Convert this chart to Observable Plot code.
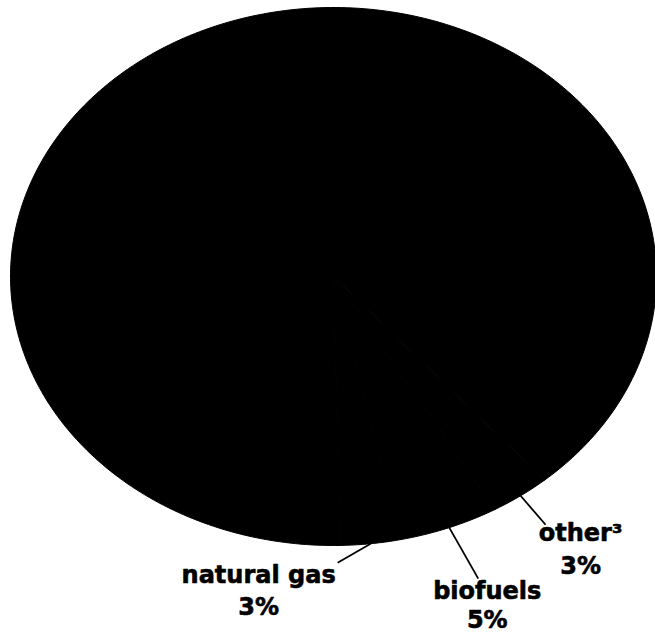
<!DOCTYPE html>
<html>
<head>
<meta charset="utf-8">
<script src="https://cdn.jsdelivr.net/npm/d3@7"></script>
<script src="https://cdn.jsdelivr.net/npm/@observablehq/plot@0.6"></script>
<style>
  html, body { margin: 0; padding: 0; background: #fff; }
  #chart { width: 655px; height: 635px; }
</style>
</head>
<body>
<div id="chart"></div>
<script>
// ---- data ----
const categories = ["other³", "biofuels", "natural gas", "petroleum"];
const shares = [3, 5, 3, 89];            // percent
const shareLabels = ["3%", "5%", "3%", ""];

// ---- layout (not data) ----
const startAngle = 139.2;                // degrees clockwise from 12 o'clock
const xRange = [10, 656], yRange = [545, 7];
const rxPx = (xRange[1] - xRange[0]) / 2, ryPx = (yRange[0] - yRange[1]) / 2;
// pixel offsets from each slice's edge midpoint: name baseline, value baseline, leader end
const labelOffsets = {
  "other³":      {name: [60, 45],  value: [60, 78],  lead: [25, 29]},
  "biofuels":    {name: [38, 71],  value: [38, 100], lead: [29, 51]},
  "natural gas": {name: [-112, 39], value: [-112, 71], lead: [-33, 19]}
};

const rad = d => d * Math.PI / 180;
const px2dx = p => p / rxPx, px2dy = p => -p / ryPx;

// build slice polygons from the shares
const slicePts = [];
const labels = [];
let a = startAngle;
categories.forEach((c, i) => {
  const a0 = a, a1 = a + shares[i] / 100 * 360;
  a = a1;
  slicePts.push({cat: c, x: 0, y: 0});
  const steps = Math.max(2, Math.ceil(a1 - a0));
  for (let k = 0; k <= steps; k++) {
    const t = rad(a0 + (a1 - a0) * k / steps);
    slicePts.push({cat: c, x: Math.sin(t), y: Math.cos(t)});
  }
  slicePts.push({cat: c, x: 0, y: 0});
  const off = labelOffsets[c];
  if (off) {
    const m = rad((a0 + a1) / 2);
    const ex = Math.sin(m), ey = Math.cos(m);
    labels.push({
      cat: c, value: shareLabels[i],
      ex, ey,
      lx: ex + px2dx(off.lead[0]), ly: ey + px2dy(off.lead[1]),
      nx: ex + px2dx(off.name[0]), ny: ey + px2dy(off.name[1]),
      vx: ex + px2dx(off.value[0]), vy: ey + px2dy(off.value[1])
    });
  }
});

const font = {fontSize: 24, fontWeight: "bold", fontFamily: "DejaVu Sans", fill: "#000", stroke: "#000", strokeWidth: 0.6, textAnchor: "middle", lineAnchor: "bottom"};

const chart = Plot.plot({
  width: 655,
  height: 635,
  x: {domain: [-1, 1], range: xRange, axis: null},
  y: {domain: [-1, 1], range: yRange, axis: null},
  style: {background: "#fff", overflow: "visible"},
  marks: [
    Plot.line(slicePts, {x: "x", y: "y", z: "cat", fill: "#000", stroke: "#000", strokeWidth: 1, strokeLinejoin: "round", curve: "linear"}),
    Plot.link(labels, {x1: "ex", y1: "ey", x2: "lx", y2: "ly", stroke: "#000", strokeWidth: 1.8}),
    Plot.text(labels, {x: "nx", y: "ny", text: "cat", ...font}),
    Plot.text(labels, {x: "vx", y: "vy", text: "value", ...font})
  ]
});
document.getElementById("chart").appendChild(chart);
</script>
</body>
</html>
